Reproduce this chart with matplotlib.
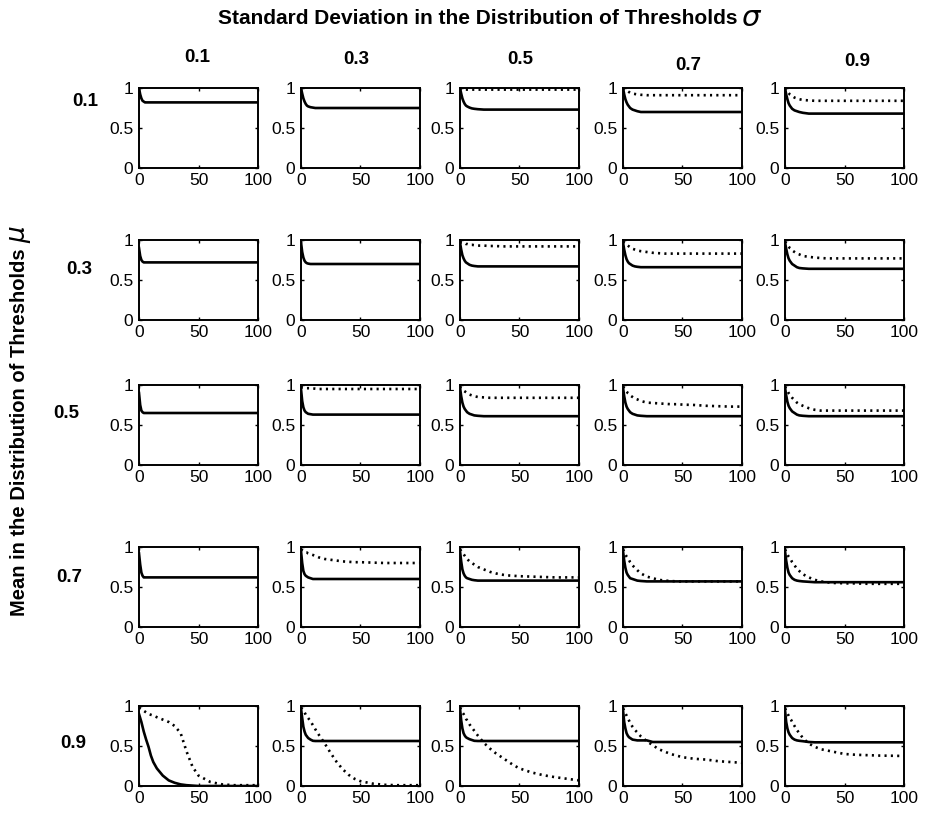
import matplotlib
matplotlib.use("Agg")
import matplotlib.pyplot as plt

# Panel grid: rows are the mean mu, columns the standard deviation sigma
mu_values = ["0.1", "0.3", "0.5", "0.7", "0.9"]
sigma_values = ["0.1", "0.3", "0.5", "0.7", "0.9"]

# Common time axis for every curve
t = [0, 1, 2, 3, 4, 5, 6, 8, 10, 12, 15, 20, 25, 30, 35, 40, 45, 50, 60, 70, 80, 90, 100]

# Solid curves, one list per sigma, for each mu (None = no curve drawn)
solid_mu01 = [
    [1.00, .92, .87, .84, .83, .82, .82, .82, .82, .82, .82, .82, .82, .82, .82, .82, .82, .82, .82, .82, .82, .82, .82],
    [1.00, .93, .87, .83, .80, .78, .77, .76, .755, .75, .75, .75, .75, .75, .75, .75, .75, .75, .75, .75, .75, .75, .75],
    [1.00, .93, .87, .83, .80, .78, .77, .755, .745, .74, .735, .73, .73, .73, .73, .73, .73, .73, .73, .73, .73, .73, .73],
    [1.00, .92, .86, .82, .79, .77, .75, .73, .72, .71, .70, .70, .70, .70, .70, .70, .70, .70, .70, .70, .70, .70, .70],
    [1.00, .92, .86, .81, .78, .76, .74, .72, .71, .70, .69, .68, .68, .68, .68, .68, .68, .68, .68, .68, .68, .68, .68],
]
dotted_mu01 = [
    None,
    None,
    [1.00, .99, .98, .98, .98, .98, .98, .98, .98, .98, .98, .98, .98, .98, .98, .98, .98, .98, .98, .98, .98, .98, .98],
    [1.00, .99, .98, .97, .96, .95, .94, .93, .925, .92, .915, .91, .91, .91, .91, .91, .91, .91, .91, .91, .91, .91, .91],
    [1.00, .98, .96, .94, .92, .91, .90, .88, .87, .86, .85, .845, .84, .84, .84, .84, .84, .84, .84, .84, .84, .84, .84],
]

solid_mu03 = [
    [.90, .80, .75, .73, .72, .72, .72, .72, .72, .72, .72, .72, .72, .72, .72, .72, .72, .72, .72, .72, .72, .72, .72],
    [.97, .85, .78, .74, .72, .71, .705, .70, .70, .70, .70, .70, .70, .70, .70, .70, .70, .70, .70, .70, .70, .70, .70],
    [.97, .88, .81, .77, .74, .72, .71, .69, .68, .675, .67, .67, .67, .67, .67, .67, .67, .67, .67, .67, .67, .67, .67],
    [.97, .88, .81, .76, .73, .71, .70, .68, .67, .665, .66, .66, .66, .66, .66, .66, .66, .66, .66, .66, .66, .66, .66],
    [.97, .89, .82, .77, .74, .72, .70, .68, .66, .65, .645, .64, .64, .64, .64, .64, .64, .64, .64, .64, .64, .64, .64],
]
dotted_mu03 = [
    None,
    None,
    [.98, .97, .97, .96, .96, .95, .95, .94, .94, .935, .93, .93, .925, .925, .92, .92, .92, .92, .92, .92, .92, .92, .92],
    [.98, .97, .96, .94, .93, .92, .91, .89, .88, .87, .86, .85, .84, .835, .83, .83, .83, .83, .83, .83, .83, .83, .83],
    [.98, .96, .94, .92, .90, .89, .87, .85, .83, .82, .80, .79, .78, .775, .77, .77, .77, .77, .77, .77, .77, .77, .77],
]

solid_mu05 = [
    [.90, .75, .68, .66, .65, .65, .65, .65, .65, .65, .65, .65, .65, .65, .65, .65, .65, .65, .65, .65, .65, .65, .65],
    [.95, .80, .72, .68, .66, .65, .64, .635, .63, .63, .63, .63, .63, .63, .63, .63, .63, .63, .63, .63, .63, .63, .63],
    [.97, .86, .78, .73, .70, .68, .66, .64, .63, .62, .615, .61, .61, .61, .61, .61, .61, .61, .61, .61, .61, .61, .61],
    [.97, .86, .78, .73, .70, .68, .66, .64, .63, .62, .615, .61, .61, .61, .61, .61, .61, .61, .61, .61, .61, .61, .61],
    [.97, .87, .79, .74, .71, .69, .67, .65, .63, .62, .615, .61, .61, .61, .61, .61, .61, .61, .61, .61, .61, .61, .61],
]
dotted_mu05 = [
    None,
    [.98, .97, .97, .97, .965, .96, .96, .96, .955, .955, .95, .95, .95, .95, .95, .95, .95, .95, .95, .95, .95, .95, .95],
    [.98, .96, .95, .93, .92, .91, .90, .88, .87, .86, .85, .845, .84, .84, .84, .84, .84, .84, .84, .84, .84, .84, .84],
    [.98, .96, .94, .92, .90, .89, .87, .85, .83, .82, .80, .78, .775, .77, .765, .76, .76, .755, .75, .74, .735, .73, .73],
    [.98, .95, .93, .90, .88, .86, .84, .81, .78, .76, .74, .71, .69, .68, .68, .68, .68, .68, .68, .68, .68, .68, .68],
]

solid_mu07 = [
    [.92, .78, .68, .64, .62, .62, .62, .62, .62, .62, .62, .62, .62, .62, .62, .62, .62, .62, .62, .62, .62, .62, .62],
    [.95, .80, .70, .66, .64, .63, .62, .61, .60, .60, .60, .60, .60, .60, .60, .60, .60, .60, .60, .60, .60, .60, .60],
    [.95, .82, .72, .67, .64, .62, .61, .60, .59, .585, .58, .58, .58, .58, .58, .58, .58, .58, .58, .58, .58, .58, .58],
    [.95, .83, .74, .68, .65, .63, .61, .60, .59, .58, .575, .57, .57, .57, .57, .57, .57, .57, .57, .57, .57, .57, .57],
    [.95, .83, .74, .68, .65, .63, .61, .59, .58, .575, .57, .565, .56, .56, .56, .56, .56, .56, .56, .56, .56, .56, .56],
]
dotted_mu07 = [
    None,
    [.97, .96, .95, .94, .93, .93, .92, .91, .90, .89, .87, .85, .84, .83, .82, .815, .81, .81, .805, .80, .80, .80, .80],
    [.97, .95, .93, .91, .89, .87, .85, .82, .80, .78, .75, .72, .69, .67, .655, .645, .64, .635, .63, .625, .62, .62, .62],
    [.97, .94, .91, .88, .86, .84, .81, .77, .74, .71, .67, .63, .61, .59, .58, .575, .57, .57, .57, .57, .57, .57, .57],
    [.97, .94, .91, .88, .86, .84, .81, .77, .73, .70, .66, .62, .59, .57, .56, .55, .55, .545, .545, .54, .54, .54, .54],
]

solid_mu09 = [
    [.90, .85, .80, .74, .68, .63, .58, .49, .38, .30, .22, .13, .07, .04, .02, .01, .005, 0, 0, 0, 0, 0, 0],
    [.97, .85, .74, .68, .64, .62, .60, .58, .565, .5625, .5625, .5625, .5625, .5625, .5625, .5625, .5625, .5625, .5625, .5625, .5625, .5625, .5625],
    [.97, .82, .72, .66, .63, .61, .60, .585, .575, .565, .5625, .5625, .5625, .5625, .5625, .5625, .5625, .5625, .5625, .5625, .5625, .5625, .5625],
    [.95, .80, .72, .66, .63, .61, .60, .58, .575, .57, .57, .57, .55, .55, .55, .55, .55, .55, .55, .55, .55, .55, .55],
    [.95, .80, .72, .67, .64, .62, .60, .58, .57, .565, .56, .55, .546, .546, .546, .546, .546, .546, .546, .546, .546, .546, .546],
]
dotted_mu09 = [
    [.98, .97, .96, .95, .94, .93, .92, .90, .89, .88, .86, .83, .80, .75, .66, .43, .24, .13, .05, .02, .01, .01, .01],
    [.98, .96, .94, .92, .89, .87, .85, .81, .76, .71, .64, .53, .41, .30, .21, .14, .09, .06, .03, .015, .01, .01, .01],
    [.98, .95, .92, .90, .87, .84, .82, .77, .73, .69, .63, .54, .47, .41, .36, .31, .26, .22, .17, .135, .11, .09, .07],
    [.97, .94, .91, .88, .85, .82, .79, .74, .70, .67, .62, .56, .51, .46, .43, .40, .38, .36, .34, .33, .31, .30, .29],
    [.97, .94, .91, .88, .85, .83, .80, .75, .70, .66, .60, .53, .49, .46, .445, .43, .415, .40, .39, .385, .38, .378, .375],
]

solid_rows = [solid_mu01, solid_mu03, solid_mu05, solid_mu07, solid_mu09]
dotted_rows = [dotted_mu01, dotted_mu03, dotted_mu05, dotted_mu07, dotted_mu09]

W, H = 928, 813
fig = plt.figure(figsize=(W / 100, H / 100), dpi=100)
fig.patch.set_facecolor("white")

tick_font = ["Liberation Sans", "DejaVu Sans"]
bold_font = ["Liberation Sans", "DejaVu Sans"]

col_left = [139, 301, 460, 623, 785]
row_top = [88, 240, 385, 547, 706]
ax_w, ax_h = 119, 80

for r in range(5):
    for c in range(5):
        x0 = col_left[c] / W
        y0 = 1 - (row_top[r] + ax_h) / H
        ax = fig.add_axes([x0, y0, ax_w / W, ax_h / H])
        dotted = dotted_rows[r][c]
        if dotted is not None:
            ax.plot(t, dotted, color="black", lw=1.9,
                    linestyle=(0, (0.8, 1.6)), dash_capstyle="butt")
        ax.plot(t, solid_rows[r][c], color="black", lw=1.9)
        ax.set_xlim(0, 100)
        ax.set_ylim(0, 1)
        ax.set_xticks([0, 50, 100])
        ax.set_yticks([0, 0.5, 1])
        ax.set_xticklabels(["0", "50", "100"])
        ax.set_yticklabels(["0", "0.5", "1"])
        ax.tick_params(direction="in", length=2.5, width=1, top=True, right=True,
                       labelsize=12.5)
        ax.tick_params(axis="x", pad=3.5)
        ax.tick_params(axis="y", pad=4)
        for lab in ax.get_xticklabels() + ax.get_yticklabels():
            lab.set_family(tick_font)
        for sp in ax.spines.values():
            sp.set_linewidth(1.4)

# Column headers (sigma)
col_label_pos = [(197, 58), (356, 60), (520, 60), (688, 66), (857, 62)]
for lab, (x, y) in zip(sigma_values, col_label_pos):
    fig.text(x / W, 1 - y / H, lab, ha="center", va="center",
             fontsize=13.5, fontweight="bold", family=bold_font)

# Row headers (mu)
row_label_pos = [(85, 102), (79, 270), (66, 413), (69, 577), (73, 743)]
for lab, (x, y) in zip(mu_values, row_label_pos):
    fig.text(x / W, 1 - y / H, lab, ha="center", va="center",
             fontsize=13.5, fontweight="bold", family=bold_font)

# Overall axis titles
fig.text(737 / W, 1 - 18 / H, "Standard Deviation in the Distribution of Thresholds",
         ha="right", va="center", fontsize=15, fontweight="bold", family=bold_font)
fig.text(752 / W, 1 - 18 / H, r"$\sigma$", ha="center", va="center", fontsize=21)

fig.text(20 / W, 1 - 432 / H, "Mean in the Distribution of Thresholds",
         ha="center", va="center", rotation=90, fontsize=14.5, fontweight="bold",
         family=bold_font)
fig.text(20 / W, 1 - 234 / H, r"$\mu$", ha="center", va="center", rotation=90,
         fontsize=19)

fig.savefig("out.png", dpi=100, facecolor="white")
